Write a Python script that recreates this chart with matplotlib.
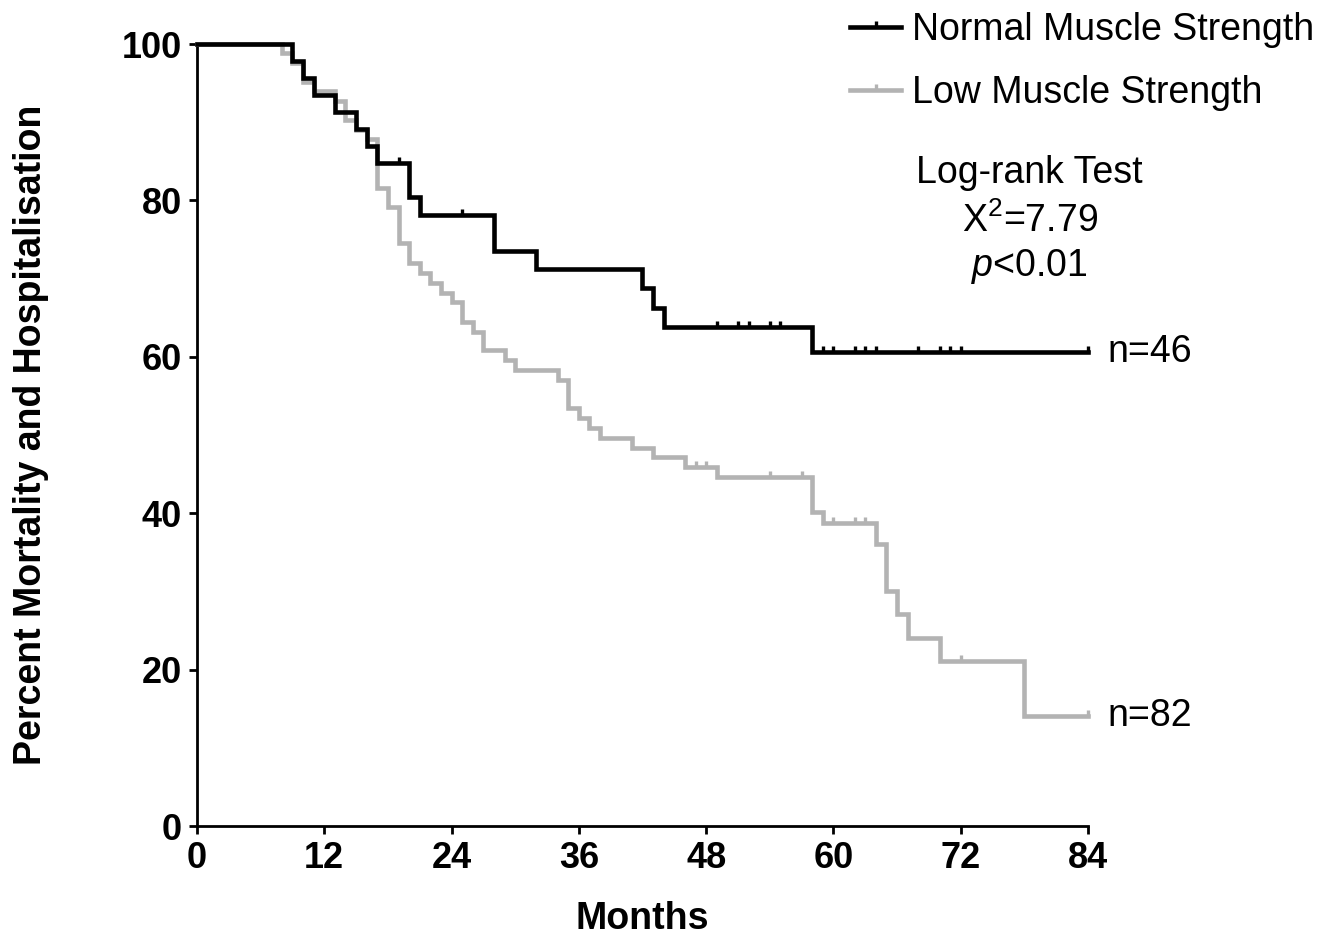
import numpy as np
import matplotlib
matplotlib.use('Agg')
import matplotlib.pyplot as plt
from matplotlib.lines import Line2D

plt.rcParams['font.family'] = ['Liberation Sans', 'DejaVu Sans']
plt.rcParams['mathtext.fontset'] = 'custom'
plt.rcParams['mathtext.rm'] = 'Liberation Sans'
plt.rcParams['mathtext.it'] = 'Liberation Sans:italic'

# Kaplan-Meier steps (months, percent)
normal_t = [0, 9, 10, 11, 13, 15, 16, 17, 20, 21, 28, 32, 42, 43, 44, 58, 84]
normal_s = [100, 97.8, 95.7, 93.5, 91.3, 89.1, 87.0, 84.8, 80.4, 78.1, 73.5, 71.2,
            68.8, 66.3, 63.8, 60.6, 60.6]
normal_cens = [19, 25, 49, 51, 52, 54, 55, 59, 60, 62, 63, 64, 68, 70, 71, 72, 84]

low_t = [0, 8, 9, 10, 11, 13, 14, 15, 16, 17, 18, 19, 20, 21, 22, 23, 24, 25, 26,
         27, 29, 30, 34, 35, 36, 37, 38, 41, 43, 46, 49, 58, 59, 64, 65, 66, 67,
         70, 78, 84]
low_s = [100, 98.8, 97.6, 95.2, 94.0, 92.7, 90.3, 89.0, 87.8, 81.6, 79.2, 74.5,
         72.0, 70.7, 69.4, 68.2, 67.0, 64.5, 63.2, 60.9, 59.6, 58.3, 57.0, 53.5,
         52.2, 50.9, 49.6, 48.4, 47.2, 45.9, 44.6, 40.2, 38.8, 36.1, 30.1, 27.1,
         24.0, 21.1, 14.1, 14.1]
low_cens = [47, 48, 54, 57, 60, 62, 63, 72, 84]

x_ticks = [0, 12, 24, 36, 48, 60, 72, 84]
y_ticks = [0, 20, 40, 60, 80, 100]

BLACK = '#000000'
GREY = '#b3b3b3'
FS = 26
FS_TXT = 27
LW = 3.3

fig = plt.figure(figsize=(13.22, 9.38), dpi=100)
ax = fig.add_axes([0.149, 0.1194, 0.674, 0.8336])

# censor tick pointing up from the line
cens_marker = [(0, 0), (0, 1)]


def value_at(ts, ss, c):
    i = np.searchsorted(ts, c, side='right') - 1
    return ss[i]


def draw_curve(ts, ss, cens, color, z):
    ax.step(ts, ss, where='post', color=color, lw=LW, clip_on=False,
            zorder=z, solid_joinstyle='miter')
    cy = [value_at(ts, ss, c) for c in cens]
    ax.plot(cens, cy, ls='none', marker=cens_marker, markersize=9,
            markeredgewidth=2.4, color=color, clip_on=False, zorder=z)


draw_curve(low_t, low_s, low_cens, GREY, 3)
draw_curve(normal_t, normal_s, normal_cens, BLACK, 4)

ax.set_xlim(0, 84)
ax.set_ylim(0, 100)
ax.set_xticks(x_ticks)
ax.set_yticks(y_ticks)
for s in ['top', 'right']:
    ax.spines[s].set_visible(False)
for s in ['left', 'bottom']:
    ax.spines[s].set_linewidth(2.0)
ax.tick_params(direction='out', length=6, width=2.0, labelsize=FS, pad=5)
for lab in ax.get_xticklabels() + ax.get_yticklabels():
    lab.set_fontweight('bold')

ax.set_xlabel('Months', fontsize=FS_TXT, fontweight='bold', labelpad=18)
ax.set_ylabel('Percent Mortality and Hospitalisation', fontsize=FS_TXT,
              fontweight='bold', labelpad=52)

# n labels at the end of each curve
ax.text(85.8, normal_s[-1], 'n=46', fontsize=FS_TXT, va='center', ha='left')
ax.text(85.8, low_s[-1], 'n=82', fontsize=FS_TXT, va='center', ha='left')

# log-rank annotation
ax.text(78.5, 83.5, 'Log-rank Test', fontsize=FS_TXT, ha='center', va='center')
ax.text(78.5, 77.4, 'X$^{2}$=7.79', fontsize=FS_TXT, ha='center', va='center')
ax.text(78.5, 71.6, '$\\mathit{p}$<0.01', fontsize=FS_TXT, ha='center', va='center')

handles = [
    Line2D([], [], color=BLACK, lw=LW, marker=cens_marker, markersize=9,
           markeredgewidth=2.4),
    Line2D([], [], color=GREY, lw=LW, marker=cens_marker, markersize=9,
           markeredgewidth=2.4),
]
leg = fig.legend(handles, ['Normal Muscle Strength', 'Low Muscle Strength'],
                 loc='upper right', bbox_to_anchor=(1.014, 1.015),
                 frameon=False, fontsize=FS_TXT, handlelength=1.35,
                 handletextpad=0.3, labelspacing=0.72, borderpad=0.2,
                 numpoints=1)

fig.savefig('out.png', dpi=100)
